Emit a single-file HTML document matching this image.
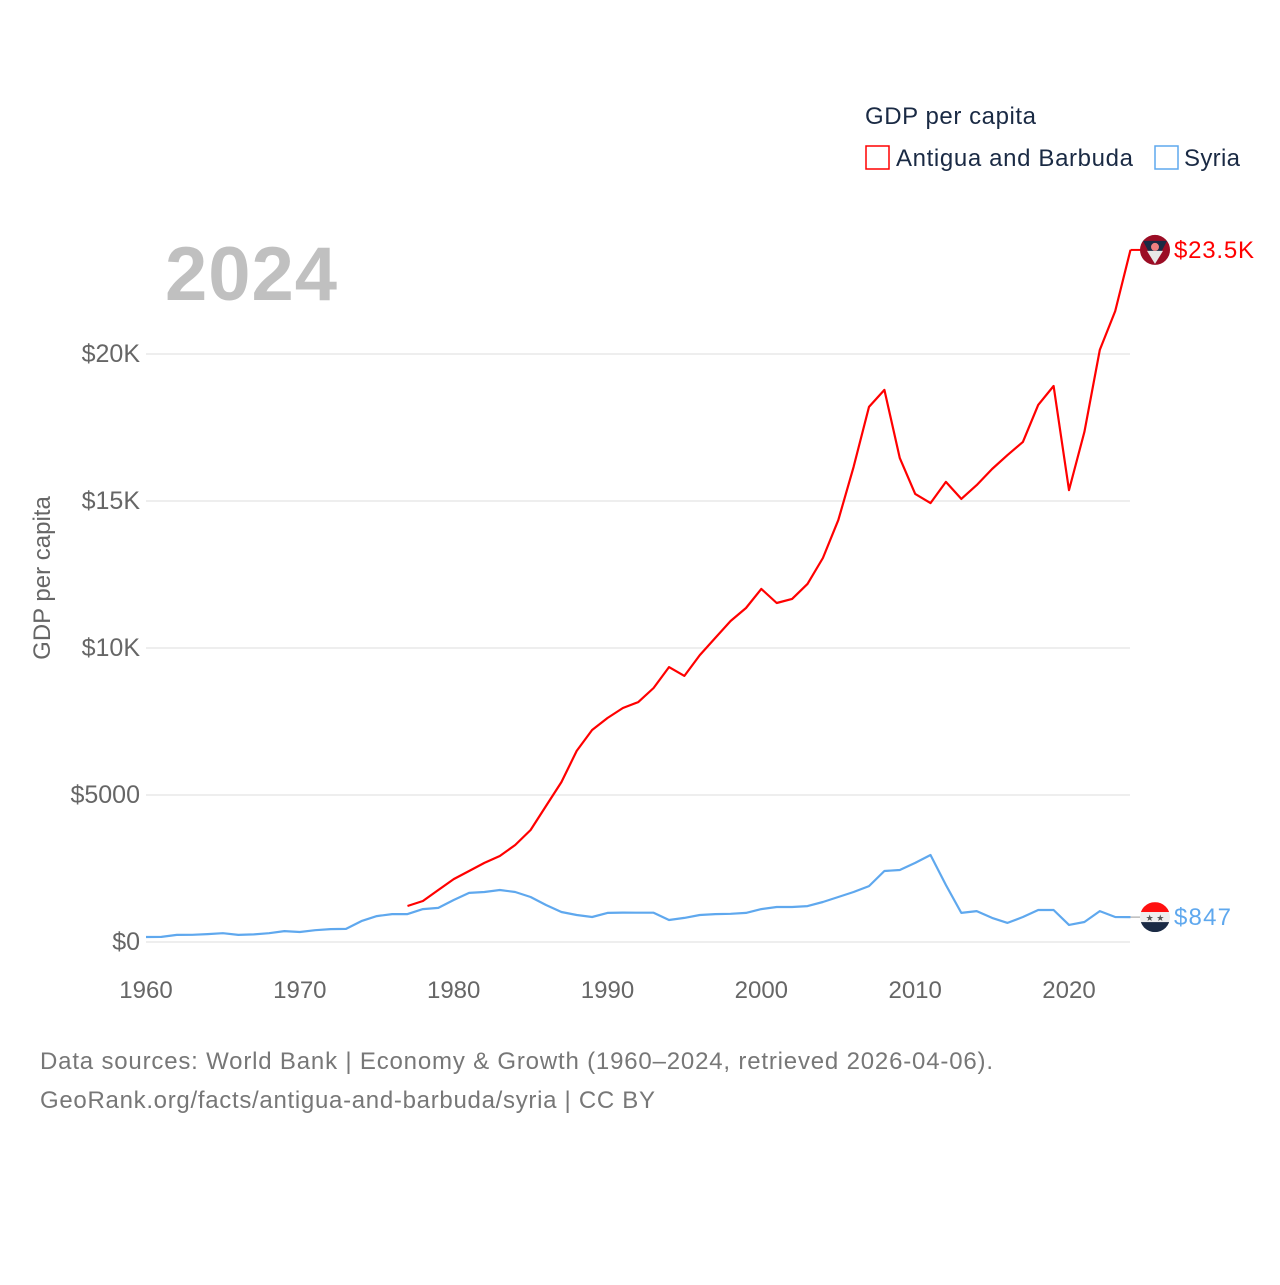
<!DOCTYPE html>
<html><head><meta charset="utf-8"><style>
body{margin:0;background:#fff;font-family:"Liberation Sans",sans-serif}
svg text{font-family:"Liberation Sans",sans-serif}
</style></head><body>
<svg id="chart" width="1280" height="1280" xmlns="http://www.w3.org/2000/svg">
<rect width="1280" height="1280" fill="#fff"/>
<text x="865" y="124" font-size="24" fill="#1a2a44" textLength="171">GDP per capita</text>
<g><rect x="866" y="146" width="23" height="23" fill="none" stroke="#ff0000" stroke-width="1.5"/><text x="896" y="166" font-size="24" fill="#1a2a44" textLength="237">Antigua and Barbuda</text></g>
<g><rect x="1155" y="146" width="23" height="23" fill="none" stroke="#5fa8ee" stroke-width="1.5"/><text x="1184" y="166" font-size="24" fill="#1a2a44" textLength="56">Syria</text></g>
<text x="165" y="300" font-size="76" font-weight="bold" fill="#c0c0c0" textLength="172">2024</text>
<text transform="translate(50,578) rotate(-90)" text-anchor="middle" font-size="24" fill="#666">GDP per capita</text>
<g id="grid"></g><g id="xt"></g><g id="series"></g>
<text x="40" y="1069" font-size="24" fill="#777" textLength="953">Data sources: World Bank | Economy &amp; Growth (1960–2024, retrieved 2026-04-06).</text>
<text x="40" y="1108" font-size="24" fill="#777" textLength="615">GeoRank.org/facts/antigua-and-barbuda/syria | CC BY</text>
</svg>
<script>
const yTicks=[0,5000,10000,15000,20000];
const yTickLabels=["$0","$5000","$10K","$15K","$20K"];
const xTicks=[1960,1970,1980,1990,2000,2010,2020];
const antiguaStart=1977;
const antiguaVals=[1224,1395,1770,2140,2415,2690,2925,3300,3810,4625,5440,6500,7210,7620,7960,8160,8640,9350,9050,9760,10340,10920,11360,12010,11530,11670,12180,13060,14350,16160,18200,18780,16460,15240,14930,15650,15070,15540,16090,16560,17010,18270,18910,15370,17350,20140,21460,23540];
const syriaStart=1960;
const syriaVals=[170,175,240,245,270,300,240,260,300,370,340,400,440,445,710,880,950,950,1120,1160,1430,1670,1700,1770,1700,1530,1260,1020,920,850,990,1000,995,995,750,820,920,950,960,990,1120,1190,1190,1220,1360,1530,1700,1900,2415,2450,2690,2960,1940,990,1050,820,650,850,1090,1090,580,680,1050,850,847];
const X=y=>146+(y-1960)*923/60;
const Y=v=>942-v*0.0294;
const NS="http://www.w3.org/2000/svg";
function mk(t,a,p){const e=document.createElementNS(NS,t);for(const k in a)e.setAttribute(k,a[k]);p.appendChild(e);return e;}
const grid=document.getElementById('grid'),xt=document.getElementById('xt'),ser=document.getElementById('series');
yTicks.forEach((v,i)=>{
 const l=mk('line',{x1:146,x2:1130,y1:Y(v),y2:Y(v),stroke:'#e8e8e8','stroke-width':1.5},grid);
 
 
 const t=mk('text',{x:140,y:Y(v)+8,'text-anchor':'end','font-size':25,fill:'#666'},grid);
 t.textContent=yTickLabels[i];
 
 
});
xTicks.forEach(v=>{
 const t=mk('text',{x:X(v),y:998,'text-anchor':'middle','font-size':24,fill:'#666'},xt);
 t.textContent=v;
 
 
});
function line(start,vals,col,name){
 const pts=vals.map((v,i)=>X(start+i).toFixed(1)+','+Y(v).toFixed(1)).join(' ');
 const p=mk('polyline',{points:pts,fill:'none',stroke:col,'stroke-width':2.2,'stroke-linejoin':'round'},ser);
 
 
}
line(syriaStart,syriaVals,'#5fa8ee','syria-line');
line(antiguaStart,antiguaVals,'#ff0000','antigua-line');
const aLast=antiguaVals[antiguaVals.length-1], sLast=syriaVals[syriaVals.length-1];
const xe=X(2024);
const c1=mk('line',{x1:xe,x2:1145,y1:Y(aLast),y2:Y(aLast),stroke:'#ff0000','stroke-width':2},ser);


const c2=mk('line',{x1:xe,x2:1145,y1:Y(sLast),y2:Y(sLast),stroke:'#999','stroke-width':1},ser);


const ga=mk('g',{},ser);


const ay=Y(aLast);
mk('circle',{cx:1155,cy:ay,r:15,fill:'#9b0d25'},ga);
mk('path',{d:`M1143,${ay-9} L1167,${ay-9} L1155,${ay+14} Z`,fill:'#1a2a44'},ga);
mk('path',{d:`M1147,${ay+1} L1163,${ay+1} L1155,${ay+14} Z`,fill:'#e8e8e8'},ga);
mk('circle',{cx:1155,cy:ay-3,r:4,fill:'#f08080'},ga);
const ta=mk('text',{x:1174,y:ay+8,'font-size':24,fill:'#ff0000',textLength:80},ser);
ta.textContent='$23.5K';


const gs=mk('g',{},ser);


const sy=Y(sLast);
mk('clipPath',{id:'sc'},gs);
mk('circle',{cx:1155,cy:sy,r:15},document.getElementById('sc'));
const gi=mk('g',{'clip-path':'url(#sc)'},gs);
mk('rect',{x:1140,y:sy-15,width:30,height:10,fill:'#ff1010'},gi);
mk('rect',{x:1140,y:sy-5,width:30,height:10,fill:'#eee'},gi);
mk('rect',{x:1140,y:sy+5,width:30,height:10,fill:'#1a2a44'},gi);
const st=mk('text',{x:1155,y:sy+4,'text-anchor':'middle','font-size':9,fill:'#555'},gs);
st.textContent='★ ★';
const ts=mk('text',{x:1174,y:sy+8,'font-size':24,fill:'#5fa8ee',textLength:57},ser);
ts.textContent='$847';


</script>
</body></html>
